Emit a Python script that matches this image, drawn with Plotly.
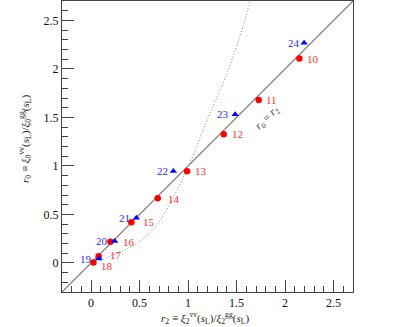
import plotly.graph_objects as go

# ---- data ----
red_ids = ["10", "11", "12", "13", "14", "15", "16", "17", "18"]
red_r2 = [2.147, 1.728, 1.367, 0.990, 0.687, 0.415, 0.199, 0.078, 0.024]
red_r0 = [2.107, 1.680, 1.327, 0.945, 0.667, 0.420, 0.217, 0.069, 0.004]

blue_ids = ["19", "20", "21", "22", "23", "24"]
blue_r2 = [0.082, 0.243, 0.467, 0.848, 1.485, 2.196]
blue_r0 = [0.045, 0.224, 0.464, 0.945, 1.530, 2.268]

curve_r2 = [0.09, 0.20, 0.32, 0.45, 0.56, 0.66, 0.75, 0.84, 0.92, 0.99,
            1.07, 1.15, 1.25, 1.36, 1.47, 1.56, 1.64]
curve_r0 = [0.03, 0.07, 0.12, 0.19, 0.27, 0.37, 0.50, 0.66, 0.82, 0.97,
            1.15, 1.36, 1.60, 1.85, 2.15, 2.42, 2.70]

diag_r = [-0.3, 2.7]
axis_range = [-0.3, 2.7]

# ---- label offsets (style, px) ----
red_xshift = [6, 5, 6, 6, 8, 10, 11, 9, 6]
red_yshift = [0, 0, 0, 0, -1, 0, 0, 1, -3]
blue_xshift = [-5, -5, -4, -3, -4, -2]

SERIF = "Liberation Serif, DejaVu Serif, serif"

fig = go.Figure()

fig.add_trace(go.Scatter(x=diag_r, y=diag_r, mode="lines",
                         line=dict(color="#6a6a6a", width=1.1),
                         hoverinfo="skip", showlegend=False))
fig.add_trace(go.Scatter(x=curve_r2, y=curve_r0, mode="lines",
                         line=dict(color="#8a8a8a", width=1, dash="1px,2px", shape="spline"),
                         hoverinfo="skip", showlegend=False))
fig.add_trace(go.Scatter(x=red_r2, y=red_r0, mode="markers",
                         marker=dict(symbol="circle", size=6.5, color="#ff0000"),
                         showlegend=False))
fig.add_trace(go.Scatter(x=blue_r2, y=blue_r0, mode="markers",
                         marker=dict(symbol="triangle-up", size=6.5, color="#0000ff"),
                         showlegend=False))

for lab, x, y, dx, dy in zip(red_ids, red_r2, red_r0, red_xshift, red_yshift):
    fig.add_annotation(x=x, y=y, text=lab, showarrow=False, xanchor="left",
                       yanchor="middle", xshift=dx, yshift=dy,
                       font=dict(family=SERIF, size=11, color="#ff3030"))
for lab, x, y, dx in zip(blue_ids, blue_r2, blue_r0, blue_xshift):
    fig.add_annotation(x=x, y=y, text=lab, showarrow=False, xanchor="right",
                       yanchor="middle", xshift=dx,
                       font=dict(family=SERIF, size=11, color="#2a2aff"))

fig.add_annotation(x=1.814, y=1.495, text="<i>r</i><sub>0</sub> = <i>r</i><sub>2</sub>",
                   showarrow=False, textangle=-45,
                   font=dict(family=SERIF, size=11, color="#333333"))

# axis titles
fig.add_annotation(xref="paper", yref="paper", x=0.491, y=-0.089,
                   xanchor="center", yanchor="middle", showarrow=False,
                   text="<i>r</i><sub>2</sub> ≡ <i>ξ</i><sub>2</sub><sup>vv</sup>(<i>s</i><sub>L</sub>)/<i>ξ</i><sub>2</sub><sup>gg</sup>(<i>s</i><sub>L</sub>)",
                   font=dict(family=SERIF, size=11, color="#222222"))
fig.add_annotation(xref="paper", yref="paper", x=-0.127, y=0.526,
                   xanchor="center", yanchor="middle", showarrow=False, textangle=-90,
                   text="<i>r</i><sub>0</sub> ≡ <i>ξ</i><sub>0</sub><sup>vv</sup>(<i>s</i><sub>L</sub>)/<i>ξ</i><sub>0</sub><sup>gg</sup>(<i>s</i><sub>L</sub>)",
                   font=dict(family=SERIF, size=11, color="#222222"))

axis_common = dict(
    range=axis_range, showgrid=False, zeroline=False, automargin=False,
    showline=True, linecolor="#444444", linewidth=1, mirror=True,
    ticks="inside", ticklen=12, tickwidth=1, tickcolor="#444444",
    tick0=0, dtick=0.5,
    minor=dict(dtick=0.1, ticks="inside", ticklen=6, tickcolor="#444444", tickwidth=1),
    tickfont=dict(family=SERIF, size=12, color="#111111"),
)

fig.update_layout(
    width=416, height=327,
    margin=dict(l=62, r=63, t=1, b=35),
    paper_bgcolor="white", plot_bgcolor="white",
    xaxis=axis_common,
    yaxis=axis_common,
)

fig.write_html("out.html", config={"displayModeBar": False},
               post_script="document.body.style.margin='0';document.body.style.padding='0';")
